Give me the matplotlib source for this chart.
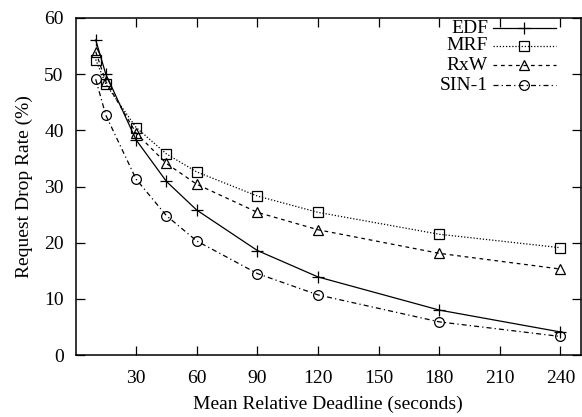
import matplotlib
matplotlib.use('Agg')
import matplotlib.pyplot as plt

plt.rcParams['font.family'] = ['Liberation Serif', 'DejaVu Serif']

# data
deadline = [10, 15, 30, 45, 60, 90, 120, 180, 240]
edf = [56.1, 50.0, 38.3, 30.9, 25.8, 18.6, 13.9, 8.0, 4.1]
mrf = [52.6, 48.2, 40.5, 35.8, 32.6, 28.3, 25.4, 21.5, 19.1]
rxw = [54.0, 48.7, 39.5, 34.1, 30.4, 25.4, 22.3, 18.1, 15.3]
sin1 = [49.1, 42.7, 31.3, 24.8, 20.3, 14.5, 10.7, 5.9, 3.3]

series = [
    ('EDF', edf, '-', '+', 8),
    ('MRF', mrf, (0, (1, 1.5)), 's', 6.5),
    ('RxW', rxw, (0, (3, 3)), '^', 6.5),
    ('SIN-1', sin1, (0, (4, 2.5, 1, 2.5)), 'o', 7),
]

fig = plt.figure(figsize=(5.82, 4.17), dpi=100)
ax = fig.add_axes([75.5 / 582, 1 - 355 / 417, 505.2 / 582, 337 / 417])

for name, vals, ls, mk, ms in series:
    ax.plot(deadline, vals, color='black', linestyle=ls, linewidth=0.9,
            marker=mk, markersize=ms, markerfacecolor='none',
            markeredgecolor='black', markeredgewidth=0.9)

ax.set_xlim(0, 250)
ax.set_ylim(0, 60)
ax.set_xticks([30, 60, 90, 120, 150, 180, 210, 240])
ax.set_yticks([0, 10, 20, 30, 40, 50, 60])
ax.tick_params(direction='in', length=6.5, width=0.9, top=True, right=True,
               labelsize=14)
ax.tick_params(axis='x', pad=11)
ax.tick_params(axis='y', pad=8.5)
for sp in ax.spines.values():
    sp.set_linewidth(1.1)

ax.set_xlabel('Mean Relative Deadline (seconds)', fontsize=14, labelpad=6)
ax.set_ylabel('Request Drop Rate (%)', fontsize=14, labelpad=8)

# gnuplot-style key: label right-aligned, sample on the right
rows = [0.970, 0.917, 0.860, 0.801]
for (name, vals, ls, mk, ms), yy in zip(series, rows):
    ax.text(0.8165, yy, name, transform=ax.transAxes, ha='right', va='center',
            fontsize=14)
    ax.plot([0.826, 0.951], [yy, yy], transform=ax.transAxes, color='black',
            linestyle=ls, linewidth=0.9)
    ax.plot([0.888], [yy], transform=ax.transAxes, color='black', marker=mk,
            markersize=ms, markerfacecolor='none', markeredgewidth=0.9,
            linestyle='none')

fig.savefig('out.png', dpi=100)
